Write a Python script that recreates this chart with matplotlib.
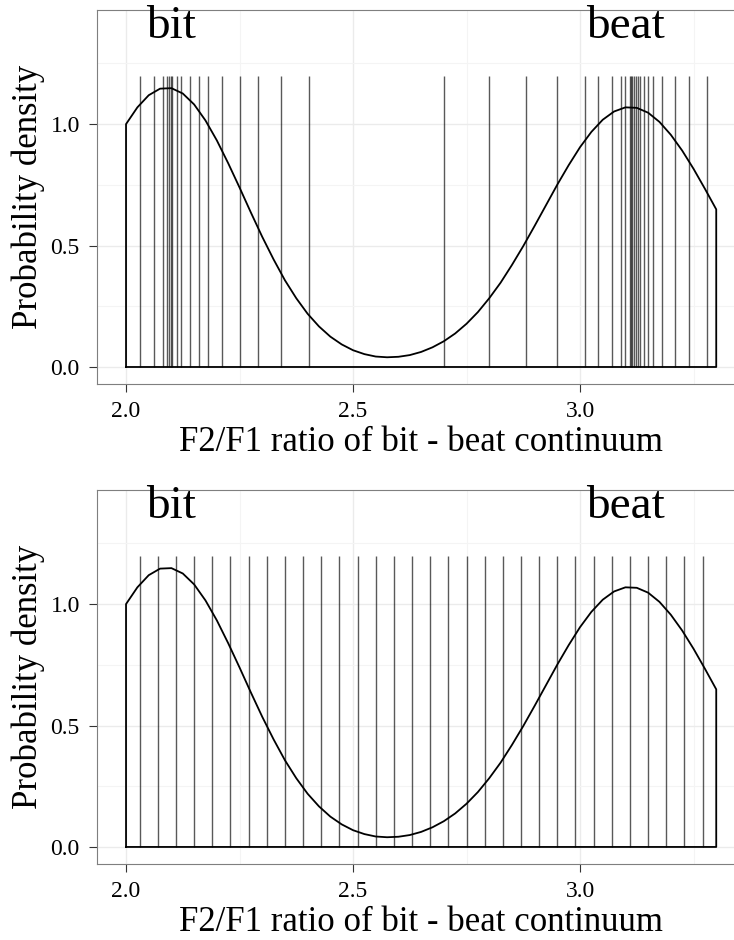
import matplotlib
matplotlib.use("Agg")
import matplotlib.pyplot as plt
from matplotlib.ticker import MultipleLocator

# density of the two vowel categories
density_x = [2.000, 2.025, 2.050, 2.075, 2.100, 2.125, 2.150, 2.175, 2.200, 2.225,
             2.250, 2.275, 2.300, 2.325, 2.350, 2.375, 2.400, 2.425, 2.450, 2.475,
             2.500, 2.525, 2.550, 2.575, 2.600, 2.625, 2.650, 2.675, 2.700, 2.725,
             2.750, 2.775, 2.800, 2.825, 2.850, 2.875, 2.900, 2.925, 2.950, 2.975,
             3.000, 3.025, 3.050, 3.075, 3.100, 3.125, 3.150, 3.175, 3.200, 3.225,
             3.250, 3.275, 3.300]
density_y = [1.000, 1.069, 1.119, 1.146, 1.148, 1.126, 1.081, 1.015, 0.933, 0.839,
             0.739, 0.636, 0.536, 0.443, 0.357, 0.283, 0.219, 0.167, 0.125, 0.093,
             0.069, 0.053, 0.043, 0.040, 0.042, 0.049, 0.062, 0.081, 0.106, 0.138,
             0.178, 0.226, 0.283, 0.347, 0.420, 0.498, 0.581, 0.666, 0.751, 0.831,
             0.905, 0.968, 1.018, 1.052, 1.069, 1.067, 1.047, 1.009, 0.956, 0.891,
             0.816, 0.734, 0.649]

# perceived stimuli (warped towards category centres)
perceived = [2.031, 2.062, 2.081, 2.091, 2.095, 2.098, 2.102, 2.113, 2.121, 2.141,
             2.161, 2.181, 2.211, 2.251, 2.291, 2.341, 2.402,
             2.700, 2.800, 2.880, 2.950, 3.010, 3.040, 3.070, 3.090, 3.100,
             3.109, 3.112, 3.115, 3.119, 3.123, 3.127, 3.133, 3.140, 3.150,
             3.160, 3.180, 3.210, 3.240, 3.280]

# actual stimuli (equally spaced)
actual = [2.03, 2.07, 2.11, 2.15, 2.19, 2.23, 2.27, 2.31, 2.35, 2.39, 2.43,
          2.47, 2.51, 2.55, 2.59, 2.63, 2.67, 2.71, 2.75, 2.79, 2.83, 2.87,
          2.91, 2.95, 2.99, 3.03, 3.07, 3.11, 3.15, 3.19, 3.23, 3.27]

labels = ["bit", "beat"]
label_x = [2.1, 3.1]
label_y = 1.4
stim_top = 1.2

plt.rcParams["font.family"] = ["Liberation Serif", "DejaVu Serif"]

fig = plt.figure(figsize=(7.34, 9.4), dpi=100)
ax_top = fig.add_axes([0.1315, 0.5915, 0.8845, 0.3979])
ax_bot = fig.add_axes([0.1315, 0.0809, 0.8845, 0.3979])


def draw_panel(ax, stims):
    ax.set_facecolor("white")
    ax.vlines(stims, 0, stim_top, color="black", alpha=0.65, linewidth=1.0, zorder=2)
    px = [density_x[0]] + density_x + [density_x[-1], density_x[0]]
    py = [0] + density_y + [0, 0]
    ax.plot(px, py, color="black", linewidth=1.3, zorder=3)
    for lab, lx in zip(labels, label_x):
        ax.text(lx, label_y, lab, fontsize=34, ha="center", va="center", zorder=4)

    ax.set_xlim(1.935, 3.365)
    ax.set_ylim(-0.07, 1.47)
    ax.xaxis.set_minor_locator(MultipleLocator(0.25))
    ax.yaxis.set_minor_locator(MultipleLocator(0.25))
    ax.set_xticks([2.0, 2.5, 3.0])
    ax.set_xticklabels(["2.0", "2.5", "3.0"])
    ax.set_yticks([0.0, 0.5, 1.0])
    ax.set_yticklabels(["0.0", "0.5", "1.0"])
    ax.grid(which="major", color="#ebebeb", linewidth=1.0, zorder=0)
    ax.grid(which="minor", color="#f4f4f4", linewidth=0.8, zorder=0)
    ax.set_axisbelow(True)
    ax.tick_params(which="major", length=6, width=0.8, color="#333333",
                   labelsize=17, pad=6)
    ax.tick_params(which="minor", length=0)
    for s in ax.spines.values():
        s.set_color("#7f7f7f")
        s.set_linewidth(0.8)
    ax.set_xlabel("F2/F1 ratio of bit - beat continuum", fontsize=25, labelpad=3)
    ax.set_ylabel("Probability density", fontsize=25, labelpad=4)


draw_panel(ax_top, perceived)
draw_panel(ax_bot, actual)

fig.savefig("out.png", dpi=100, facecolor="white")
